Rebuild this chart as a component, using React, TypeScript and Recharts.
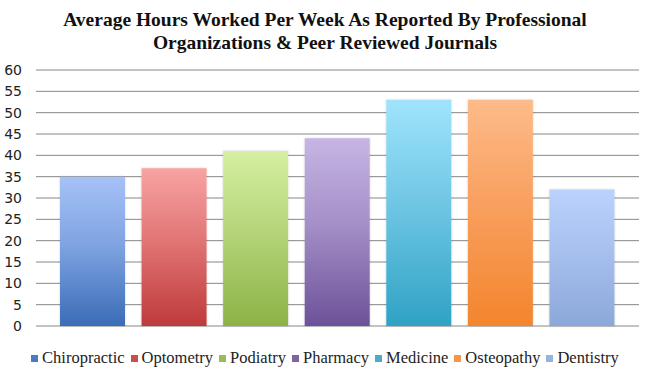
import { BarChart, Bar, XAxis, YAxis, CartesianGrid, Cell } from "recharts";

const categories = ["Chiropractic", "Optometry", "Podiatry", "Pharmacy", "Medicine", "Osteopathy", "Dentistry"];
const hours = [35, 37, 41, 44, 53, 53, 32];
const yTicks = [0, 5, 10, 15, 20, 25, 30, 35, 40, 45, 50, 55, 60];

// light top, middle, dark bottom, legend swatch
const gradients = [
  ["#a6c2f7", "#80a4e1", "#3a6cb7", "#4a7bc0"],
  ["#f8a3a3", "#e27676", "#bf3a3a", "#c94f4f"],
  ["#d5f0a2", "#b6d57a", "#8cb246", "#9bbb59"],
  ["#c6b5e4", "#a590c8", "#6c519a", "#8064a2"],
  ["#a0e4fc", "#70c7e5", "#30a2c4", "#4bacc6"],
  ["#fdbb89", "#f9a060", "#f3852d", "#f79646"],
  ["#bad2fc", "#a7c0ee", "#8ca7da", "#95b3e0"],
];

const data = categories.map((name, i) => ({ name, hours: hours[i] }));

function LegendRow() {
  return (
    <div
      style={{
        position: "absolute",
        left: 0,
        top: 348,
        width: 650,
        display: "flex",
        justifyContent: "center",
        fontFamily: "'Liberation Serif', serif",
        fontSize: 16.5,
        lineHeight: "20px",
        color: "#222",
      }}
    >
      {categories.map((c, i) => (
        <span key={c} style={{ display: "inline-flex", alignItems: "center", marginRight: i < categories.length - 1 ? 6 : 0 }}>
          <span style={{ width: 7, height: 7, background: gradients[i][3], marginRight: 4, display: "inline-block" }} />
          {c}
        </span>
      ))}
    </div>
  );
}

export default function App() {
  return (
    <div style={{ position: "absolute", left: 0, top: 0, width: 650, height: 376, background: "#fff" }}>
      <div
        style={{
          position: "absolute",
          left: 0,
          top: 8,
          width: 650,
          textAlign: "center",
          fontFamily: "'Liberation Serif', serif",
          fontWeight: "bold",
          fontSize: 19.5,
          lineHeight: "23px",
          color: "#111",
        }}
      >
        Average Hours Worked Per Week As Reported By Professional
        <br />
        Organizations &amp; Peer Reviewed Journals
      </div>
      <BarChart width={650} height={376} data={data} margin={{ top: 70, right: 11, left: 0, bottom: 50 }}>
        <defs>
          {gradients.map((g, i) => (
            <linearGradient key={i} id={`grad${i}`} x1="0" y1="0" x2="0" y2="1">
              <stop offset="0%" stopColor={g[0]} />
              <stop offset="45%" stopColor={g[1]} />
              <stop offset="100%" stopColor={g[2]} />
            </linearGradient>
          ))}
          <filter id="shadow" x="-10%" y="-5%" width="120%" height="110%">
            <feDropShadow dx="0" dy="0" stdDeviation="1.2" floodColor="#000" floodOpacity="0.18" />
          </filter>
        </defs>
        <CartesianGrid vertical={false} stroke="#878787" strokeWidth={1} />
        <XAxis dataKey="name" tick={false} tickLine={false} axisLine={{ stroke: "#878787" }} padding={{ left: 16, right: 16 }} height={0} />
        <YAxis
          domain={[0, 60]}
          ticks={yTicks}
          interval={0}
          width={36}
          tickLine={false}
          axisLine={false}
          tickSize={0}
          tickMargin={14}
          tick={{ fontSize: 14, fill: "#222", fontFamily: "'DejaVu Sans', sans-serif" }}
        />
        <Bar dataKey="hours" barSize={65} isAnimationActive={false} filter="url(#shadow)">
          {data.map((d, i) => (
            <Cell key={d.name} fill={`url(#grad${i})`} />
          ))}
        </Bar>
      </BarChart>
      <LegendRow />
    </div>
  );
}
